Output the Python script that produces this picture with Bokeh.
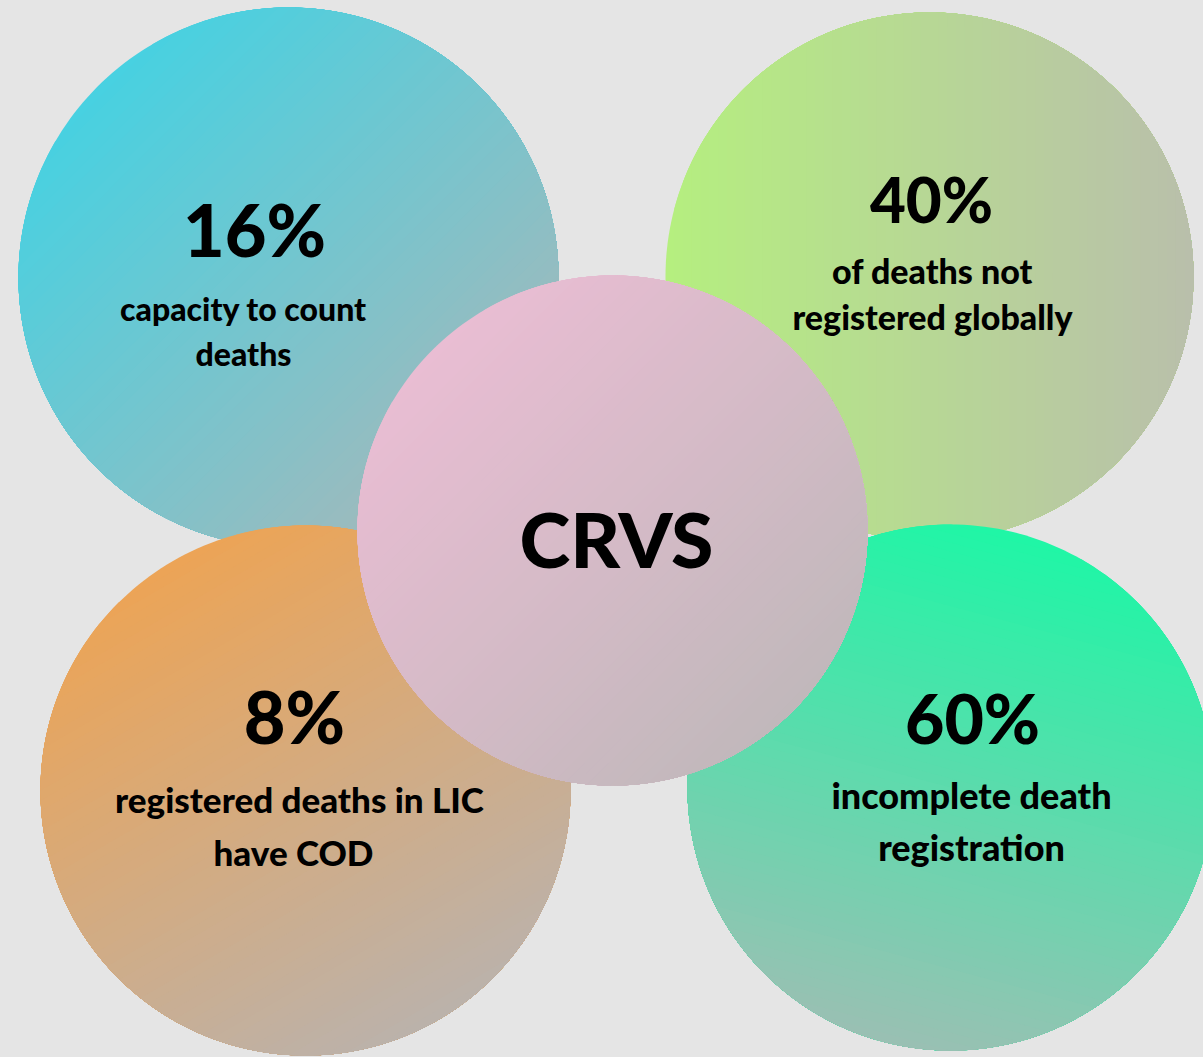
import numpy as np
from bokeh.plotting import figure
from bokeh.models import Range1d, ColumnDataSource
from bokeh.core.properties import value
from bokeh.embed import file_html
from bokeh.resources import INLINE

# ---- content -------------------------------------------------------------
pct_labels = ["16%", "40%", "8%", "60%"]
desc_line1 = ["capacity to count", "of deaths not", "registered deaths in LIC", "incomplete death"]
desc_line2 = ["deaths", "registered globally", "have COD", "registration"]
hub_label = "CRVS"

# ---- layout (reference pixel coordinates) ---------------------------------
W, H = 1203, 1057
BG = "#e5e5e5"
BASE_SHIFT = 0.38  # em correction so that y is the visual baseline

# drawing order: back to front
bubbles = [
    dict(cx=288, cy=277, r=270, ang=45, c0="#47d1e1", c1="#a2b9bb"),   # teal
    dict(cx=929, cy=276, r=264, ang=0, c0="#b5ef7f", c1="#b9bfab"),    # yellow-green
    dict(cx=305, cy=790, r=265, ang=60, c0="#eca456", c1="#bbb2ab"),   # orange
    dict(cx=950, cy=787, r=263, ang=105, c0="#1ff6a6", c1="#9ac0b3"),  # green
    dict(cx=612, cy=530, r=255, ang=45, c0="#e9bdd3", c1="#c1b8bb"),   # pink hub
]

# (x, baseline y, font px)
pct_pos = [(254, 256, 72), (931, 222, 62), (294, 743, 72), (972, 743, 68)]
line1_pos = [(243, 320, 32), (932, 283, 34), (299, 812, 35), (971, 808, 36)]
line2_pos = [(243, 365, 32), (932, 329, 34), (293, 865, 35), (971, 860, 36)]
hub_pos = (616, 567, 77)


def hex2rgb(h):
    h = h.lstrip("#")
    return np.array([int(h[i:i + 2], 16) for i in (0, 2, 4)], dtype=float)


def rgb2hex(c):
    c = np.clip(np.round(c), 0, 255).astype(int)
    return "#%02x%02x%02x" % tuple(c)


p = figure(width=W, height=H, output_backend="svg", toolbar_location=None,
           x_range=Range1d(0, W), y_range=Range1d(H, 0),
           min_border=0, background_fill_color=BG, border_fill_color=BG)
p.axis.visible = False
p.grid.visible = False
p.outline_line_color = None

# gradient-filled bubbles: stacked circular segments
K = 60
xs_all, ys_all, cols = [], [], []
for b in bubbles:
    c0, c1 = hex2rgb(b["c0"]), hex2rgb(b["c1"])
    phi = np.radians(b["ang"])
    r = b["r"]
    for k in range(K):
        s = -r + 2 * r * k / K
        a = np.arccos(np.clip(s / r, -1, 1))
        n = max(12, int(240 * a / np.pi))
        th = np.linspace(-a, a, n)
        xs_all.append(list(b["cx"] + r * np.cos(phi + th)))
        ys_all.append(list(b["cy"] + r * np.sin(phi + th)))
        t = (k + 0.5) / K
        cols.append(rgb2hex(c0 + (c1 - c0) * t))

p.patches(xs=xs_all, ys=ys_all, fill_color=cols, line_color=None)

font = value("Lato Heavy, Lato")


def add_text(pos, texts):
    src = ColumnDataSource(dict(
        x=[q[0] for q in pos],
        y=[q[1] - BASE_SHIFT * q[2] for q in pos],
        t=list(texts),
        s=["%dpx" % q[2] for q in pos]))
    p.text(x="x", y="y", text="t", source=src, text_font_size="s",
           text_align="center", text_baseline="alphabetic", text_font=font,
           text_font_style="bold", text_color="#000000")


add_text(pct_pos, pct_labels)
add_text(line1_pos, desc_line1)
add_text(line2_pos, desc_line2)
add_text([hub_pos], [hub_label])

html = file_html(p, INLINE)
html = html.replace("</head>", "<style>html,body{background:%s;}</style></head>" % BG, 1)
open("out.html", "w").write(html)
